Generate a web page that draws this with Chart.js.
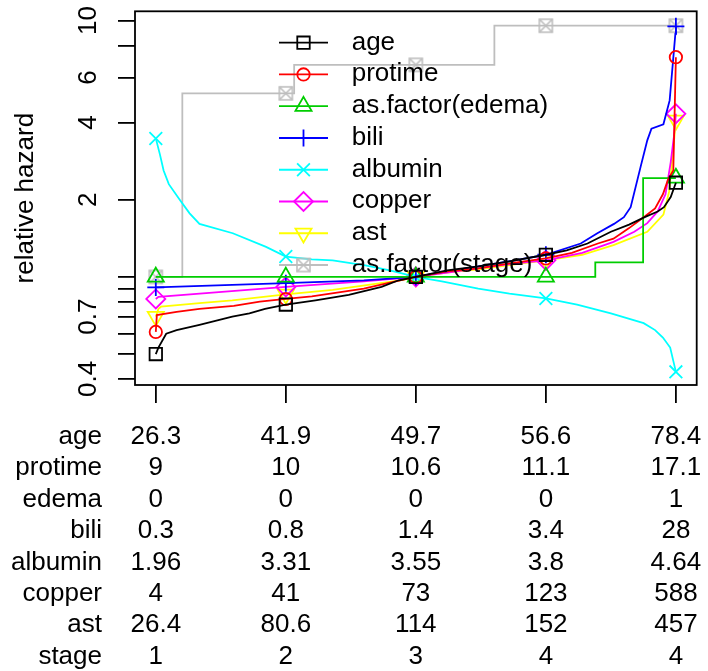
<!DOCTYPE html>
<html>
<head>
<meta charset="utf-8">
<title>relative hazard</title>
<script src="https://cdn.jsdelivr.net/npm/chart.js@4.4.1/dist/chart.umd.min.js"></script>
<style>
  html, body { margin: 0; padding: 0; background: #fff; }
  canvas { display: block; }
</style>
</head>
<body>
<canvas id="chart" width="708" height="671"></canvas>
<script>
// quantile positions of the table columns, and the y axis ticks
const xTicks = [0, 0.25, 0.5, 0.75, 1];
const yTicks = [0.4, 0.5, 0.6, 0.7, 0.8, 0.9, 1, 2, 4, 6, 8, 10];
const yTickLabels = ["0.4", "", "", "0.7", "", "", "", "2", "4", "6", "", "10"];

const seriesNames = ["age", "protime", "as.factor(edema)", "bili", "albumin", "copper", "ast", "as.factor(stage)"];
const seriesColors = ["#000000", "#FF0000", "#00CD00", "#0000FF", "#00FFFF", "#FF00FF", "#FFFF00", "#BEBEBE"];

// relative hazard curves (x = quantile of the covariate)
const ageQ = [0, 0.005, 0.02, 0.04, 0.084, 0.147, 0.18, 0.21, 0.25, 0.307, 0.371, 0.434, 0.467, 0.5, 0.56, 0.62, 0.68, 0.75, 0.79, 0.83, 0.875, 0.91, 0.94, 0.965, 0.977, 0.99, 1];
const ageHR = [0.50, 0.53, 0.60, 0.62, 0.65, 0.70, 0.72, 0.75, 0.78, 0.81, 0.85, 0.915, 0.97, 1.0, 1.06, 1.1, 1.15, 1.22, 1.27, 1.35, 1.5, 1.6, 1.71, 1.8, 1.87, 2.05, 2.33];

const protimeQ = [0, 0.002, 0.04, 0.084, 0.15, 0.2, 0.25, 0.3, 0.4, 0.45, 0.5, 0.56, 0.62, 0.68, 0.75, 0.8, 0.85, 0.88, 0.91, 0.94, 0.96, 0.975, 0.985, 0.995, 1];
const protimeHR = [0.61, 0.71, 0.73, 0.75, 0.77, 0.80, 0.82, 0.84, 0.9, 0.95, 1.0, 1.05, 1.08, 1.13, 1.18, 1.24, 1.35, 1.41, 1.55, 1.72, 1.85, 2.1, 2.4, 2.6, 7.2];

const edemaQ = [0, 0.25, 0.5, 0.75, 0.845, 0.937, 1];
const edemaHR = [1, 1, 1, 1, 1.14, 2.43, 2.43];

const biliQ = [0, 0.25, 0.4, 0.5, 0.56, 0.62, 0.69, 0.75, 0.817, 0.849, 0.881, 0.9, 0.913, 0.932, 0.945, 0.953, 0.976, 0.988, 0.999, 1];
const biliHR = [0.91, 0.945, 0.97, 1.0, 1.05, 1.1, 1.16, 1.22, 1.35, 1.48, 1.61, 1.71, 1.87, 2.68, 3.41, 3.79, 3.94, 4.88, 8.9, 9.5];

const albuminQ = [0, 0.008, 0.015, 0.025, 0.046, 0.065, 0.084, 0.148, 0.212, 0.25, 0.3, 0.34, 0.403, 0.45, 0.5, 0.55, 0.62, 0.68, 0.75, 0.81, 0.875, 0.938, 0.96, 0.975, 0.989, 1];
const albuminHR = [3.47, 3.0, 2.6, 2.3, 2.0, 1.77, 1.61, 1.48, 1.31, 1.2, 1.17, 1.16, 1.11, 1.06, 1.0, 0.96, 0.9, 0.86, 0.824, 0.78, 0.72, 0.66, 0.62, 0.58, 0.53, 0.426];

const copperQ = [0, 0.005, 0.25, 0.4, 0.5, 0.56, 0.62, 0.69, 0.75, 0.82, 0.88, 0.92, 0.945, 0.965, 0.98, 0.99, 0.996, 1];
const copperHR = [0.82, 0.836, 0.914, 0.96, 1.0, 1.04, 1.08, 1.13, 1.16, 1.24, 1.37, 1.5, 1.62, 1.8, 2.1, 2.8, 3.5, 4.33];

const astQ = [0, 0.005, 0.01, 0.084, 0.147, 0.25, 0.34, 0.47, 0.5, 0.56, 0.62, 0.69, 0.75, 0.82, 0.88, 0.945, 0.976, 0.987, 0.997, 1];
const astHR = [0.70, 0.75, 0.765, 0.79, 0.81, 0.855, 0.89, 0.97, 1.0, 1.04, 1.07, 1.12, 1.16, 1.22, 1.33, 1.5, 1.75, 2.15, 3.5, 4.08];

const stageQ = [0, 0.051, 0.25, 0.266, 0.5, 0.651, 0.75, 1];
const stageHR = [1, 5.2, 5.2, 6.72, 6.72, 9.55, 9.55, 9.55];

// covariate values at the quantile positions (table under the plot)
const rowNames = ["age", "protime", "edema", "bili", "albumin", "copper", "ast", "stage"];
const ageRow = ["26.3", "41.9", "49.7", "56.6", "78.4"];
const protimeRow = ["9", "10", "10.6", "11.1", "17.1"];
const edemaRow = ["0", "0", "0", "0", "1"];
const biliRow = ["0.3", "0.8", "1.4", "3.4", "28"];
const albuminRow = ["1.96", "3.31", "3.55", "3.8", "4.64"];
const copperRow = ["4", "41", "73", "123", "588"];
const astRow = ["26.4", "80.6", "114", "152", "457"];
const stageRow = ["1", "2", "3", "4", "4"];
const tableRows = [ageRow, protimeRow, edemaRow, biliRow, albuminRow, copperRow, astRow, stageRow];

const FONT = '26px "Liberation Sans", Arimo, Arial, sans-serif';
const LW = 1.8;

function makeBoxX(color) {
    const c = document.createElement("canvas");
    c.width = 17;
    c.height = 17;
    const g = c.getContext("2d");
    g.strokeStyle = color;
    g.lineWidth = 1.6;
    g.strokeRect(2, 2, 13, 13);
    g.beginPath();
    g.moveTo(2, 2); g.lineTo(15, 15);
    g.moveTo(15, 2); g.lineTo(2, 15);
    g.stroke();
    return c;
}

const seriesStyles = ["rect", "circle", "triangle", "cross", "crossRot", "rectRot", "triangle", makeBoxX("#BEBEBE")];
const seriesRadii = [8.8, 6.2, 9.3, 8.5, 9, 9.5, 9.3, 8.5];
const seriesRotations = [0, 0, 0, 0, 0, 0, 180, 0];
const seriesQ = [ageQ, protimeQ, edemaQ, biliQ, albuminQ, copperQ, astQ, stageQ];
const seriesHR = [ageHR, protimeHR, edemaHR, biliHR, albuminHR, copperHR, astHR, stageHR];
const seriesStepped = [false, false, true, false, false, false, false, true];

const datasets = seriesNames.map((name, i) => ({
    label: name,
    data: seriesQ[i].map((q, j) => ({ x: q, y: seriesHR[i][j] })),
    borderColor: seriesColors[i],
    backgroundColor: "rgba(0,0,0,0)",
    borderWidth: LW,
    stepped: seriesStepped[i],
    tension: 0,
    fill: false,
    pointStyle: seriesStyles[i],
    pointRotation: seriesRotations[i],
    pointBorderColor: seriesColors[i],
    pointBackgroundColor: "rgba(0,0,0,0)",
    pointBorderWidth: LW,
    pointRadius: ctx => (ctx.raw && xTicks.includes(ctx.raw.x)) ? seriesRadii[i] : 0,
    pointHoverRadius: 0
}));

// box, rotated y labels, table of covariate values and the legend
const rDecor = {
    id: "rDecor",
    afterDatasetsDraw(chart) {
        const { ctx, chartArea: a } = chart;
        ctx.save();
        ctx.strokeStyle = "#000";
        ctx.lineWidth = LW;
        ctx.strokeRect(a.left, a.top, a.right - a.left, a.bottom - a.top);
        ctx.restore();
    },
    afterDraw(chart) {
        const ctx = chart.ctx;
        const xs = chart.scales.x;
        const ys = chart.scales.y;
        ctx.save();
        ctx.fillStyle = "#000";
        ctx.font = FONT;

        // y tick labels, read bottom to top
        ctx.textAlign = "center";
        ctx.textBaseline = "alphabetic";
        yTicks.forEach((v, i) => {
            if (!yTickLabels[i]) return;
            ctx.save();
            ctx.translate(96, ys.getPixelForValue(v));
            ctx.rotate(-Math.PI / 2);
            ctx.fillText(yTickLabels[i], 0, 0);
            ctx.restore();
        });

        // y axis title
        ctx.save();
        ctx.translate(33, (chart.chartArea.top + chart.chartArea.bottom) / 2);
        ctx.rotate(-Math.PI / 2);
        ctx.fillText("relative hazard", 0, 0);
        ctx.restore();

        // table
        tableRows.forEach((row, r) => {
            const base = 444 + r * 31.4;
            ctx.textAlign = "right";
            ctx.fillText(rowNames[r], 102, base);
            ctx.textAlign = "center";
            row.forEach((txt, c) => {
                ctx.fillText(txt, xs.getPixelForValue(xTicks[c]), base);
            });
        });

        // legend (no box)
        const drawPoint = Chart.helpers.drawPoint;
        seriesNames.forEach((name, i) => {
            const y = 42.7 + i * 31.76;
            ctx.strokeStyle = seriesColors[i];
            ctx.lineWidth = LW;
            ctx.beginPath();
            ctx.moveTo(279, y);
            ctx.lineTo(328, y);
            ctx.stroke();
            ctx.fillStyle = "rgba(0,0,0,0)";
            drawPoint(ctx, {
                pointStyle: seriesStyles[i],
                radius: seriesRadii[i],
                rotation: seriesRotations[i],
                borderWidth: LW
            }, 303.5, y);
            ctx.fillStyle = "#000";
            ctx.textAlign = "left";
            ctx.fillText(name, 351.7, y + 6.8);
        });
        ctx.restore();
    }
};

new Chart(document.getElementById("chart"), {
    type: "line",
    data: { datasets },
    options: {
        responsive: false,
        animation: false,
        events: [],
        devicePixelRatio: 1,
        layout: { padding: { top: 10, right: 9, bottom: 0, left: 0 } },
        plugins: { legend: { display: false }, tooltip: { enabled: false } },
        scales: {
            x: {
                type: "linear",
                min: -0.04,
                max: 1.04,
                bounds: "data",
                afterBuildTicks: s => { s.ticks = xTicks.map(v => ({ value: v })); },
                afterFit: s => { s.height = 286; },
                ticks: { display: false },
                grid: { drawOnChartArea: false, drawTicks: true, tickLength: 18, color: "#000", lineWidth: LW },
                border: { display: false }
            },
            y: {
                type: "logarithmic",
                min: 0.3786,
                max: 10.87,
                bounds: "data",
                afterBuildTicks: s => { s.ticks = yTicks.map(v => ({ value: v })); },
                afterFit: s => { s.width = 135; },
                ticks: { display: false },
                grid: { drawOnChartArea: false, drawTicks: true, tickLength: 17, color: "#000", lineWidth: LW },
                border: { display: false }
            }
        }
    },
    plugins: [rDecor]
});
</script>
</body>
</html>
